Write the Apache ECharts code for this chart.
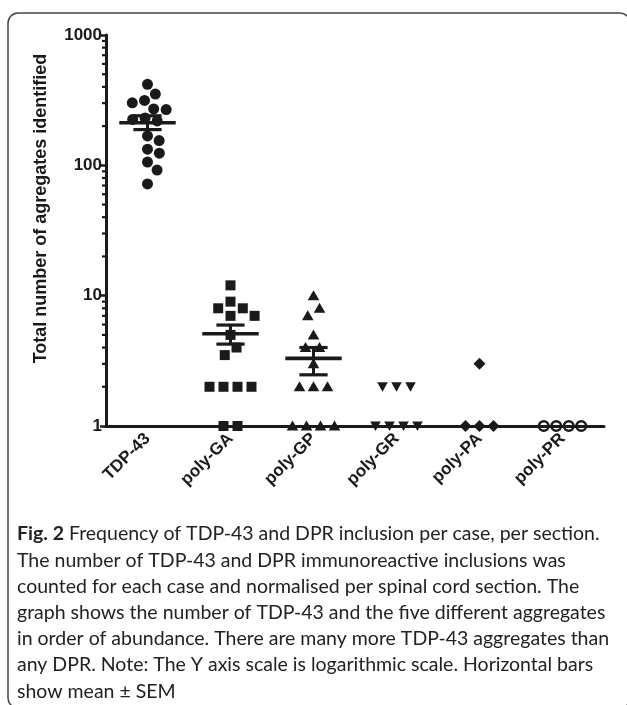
<!DOCTYPE html>
<html>
<head>
<meta charset="utf-8">
<script src="https://cdn.jsdelivr.net/npm/echarts@6/dist/echarts.min.js"></script>
<style>
html,body{margin:0;padding:0;background:#fff;}
#chart{width:627px;height:705px;}
</style>
</head>
<body>
<div id="chart"></div>
<script>
// ---------------- data ----------------
const categories = ['TDP-43', 'poly-GA', 'poly-GP', 'poly-GR', 'poly-PA', 'poly-PR'];
const tdp43  = [418, 352, 315, 302, 271, 268, 231, 225, 219, 168, 155, 133, 124, 106, 92, 72];
const polyGA = [12, 9, 8, 8, 7, 7, 5, 4, 3.5, 2, 2, 2, 2, 1, 1];
const polyGP = [10, 8, 7, 5, 4, 4, 3, 2, 2, 2, 1, 1, 1, 1];
const polyGR = [2, 2, 2, 1, 1, 1, 1];
const polyPA = [3, 1, 1, 1];
const polyPR = [1, 1, 1, 1];
// mean ± SEM bars for TDP-43, poly-GA, poly-GP
const meanValues = [212, 5.1, 3.3];
const semLow     = [188, 4.25, 2.47];
const semHigh    = [240, 5.95, 4.0];
const yTicks = [1, 10, 100, 1000];
const yAxisName = 'Total number of agregates identified';
const captionLines = [
  '{b|Fig. 2} Frequency of TDP-43 and DPR inclusion per case, per section.',
  'The number of TDP-43 and DPR immunoreactive inclusions was',
  'counted for each case and normalised per spinal cord section. The',
  'graph shows the number of TDP-43 and the five different aggregates',
  'in order of abundance. There are many more TDP-43 aggregates than',
  'any DPR. Note: The Y axis scale is logarithmic scale. Horizontal bars',
  'show mean \u00b1 SEM'
];

// ---------------- helpers ----------------
const INK = '#1a1a1a';
const AXFONT = 'Liberation Sans, Arial, sans-serif';
const minorTicks = [];
for (let i = 0; i < yTicks.length - 1; i++) {
  for (let k = 2; k <= 9; k++) minorTicks.push(yTicks[i] * k);
}

function swarm(ys, D) {
  const n = ys.length, xs = new Array(n).fill(0), placed = [];
  const order = ys.map((y, i) => i).sort((a, b) => ys[a] - ys[b]);
  for (const i of order) {
    const cands = [0];
    for (const j of placed) {
      const dy = Math.abs(ys[j] - ys[i]);
      if (dy < D) { const dx = Math.sqrt(D * D - dy * dy); cands.push(xs[j] + dx, xs[j] - dx); }
    }
    cands.sort((a, b) => (Math.abs(a) - Math.abs(b)) || (b - a));
    for (const c of cands) {
      if (placed.every(j => Math.hypot(xs[j] - c, ys[j] - ys[i]) >= D - 1e-6)) { xs[i] = c; break; }
    }
    placed.push(i);
  }
  const groups = {};
  ys.forEach((y, i) => { const k = y.toFixed(2); (groups[k] = groups[k] || []).push(i); });
  for (const k in groups) {
    const g = groups[k]; if (g.length < 2) continue;
    const y = ys[g[0]];
    const iso = ys.every((yy, j) => g.includes(j) || Math.abs(yy - y) >= D);
    if (iso) { const m = g.reduce((s, j) => s + xs[j], 0) / g.length; g.forEach(j => xs[j] -= m); }
  }
  return xs;
}

function shapeFor(kind, cx, cy) {
  const fill = { fill: INK };
  switch (kind) {
    case 'circle': return { type: 'circle', shape: { cx, cy, r: 5.5 }, style: fill };
    case 'square': return { type: 'rect', shape: { x: cx - 5, y: cy - 5, width: 10, height: 10 }, style: fill };
    case 'triangle': return { type: 'polygon', shape: { points: [[cx, cy - 5.5], [cx - 5.8, cy + 4.5], [cx + 5.8, cy + 4.5]] }, style: fill };
    case 'invtriangle': return { type: 'polygon', shape: { points: [[cx - 5.3, cy - 4.5], [cx + 5.3, cy - 4.5], [cx, cy + 5]] }, style: fill };
    case 'diamond': return { type: 'polygon', shape: { points: [[cx, cy - 6], [cx + 6, cy], [cx, cy + 6], [cx - 6, cy]] }, style: fill };
    case 'open': return { type: 'circle', shape: { cx, cy, r: 4.8 }, style: { fill: 'none', stroke: INK, lineWidth: 2.6 } };
  }
}

function pointSeries(catIndex, values, kind, D) {
  let xs = null;
  return {
    type: 'custom',
    coordinateSystem: 'cartesian2d',
    clip: false,
    z: 3,
    data: values.map(v => [catIndex, v]),
    encode: { x: 0, y: 1 },
    renderItem: function (params, api) {
      if (params.dataIndexInside === 0 || !xs) {
        const ys = values.map(v => api.coord([catIndex, v])[1]);
        xs = swarm(ys, D);
      }
      const p = api.coord([api.value(0), api.value(1)]);
      return shapeFor(kind, p[0] + xs[params.dataIndex], p[1]);
    }
  };
}

const meanSeries = {
  type: 'custom',
  coordinateSystem: 'cartesian2d',
  clip: false,
  z: 5,
  data: meanValues.map((m, i) => [i, m, semLow[i], semHigh[i]]),
  encode: { x: 0, y: 1 },
  renderItem: function (params, api) {
    const c = api.coord([api.value(0), api.value(1)]);
    const lo = api.coord([api.value(0), api.value(2)]);
    const hi = api.coord([api.value(0), api.value(3)]);
    const bw = api.size([1, 0])[0];
    const hm = bw * 0.34, hs = bw * 0.17;
    const st = w => ({ stroke: INK, lineWidth: w, fill: 'none' });
    return {
      type: 'group',
      children: [
        { type: 'line', shape: { x1: c[0], y1: hi[1], x2: c[0], y2: lo[1] }, style: st(3) },
        { type: 'line', shape: { x1: c[0] - hm, y1: c[1], x2: c[0] + hm, y2: c[1] }, style: st(3.6) },
        { type: 'line', shape: { x1: c[0] - hs, y1: hi[1], x2: c[0] + hs, y2: hi[1] }, style: st(3.2) },
        { type: 'line', shape: { x1: c[0] - hs, y1: lo[1], x2: c[0] + hs, y2: lo[1] }, style: st(3.2) }
      ]
    };
  }
};

const minorTickSeries = {
  type: 'custom',
  coordinateSystem: 'cartesian2d',
  clip: false,
  z: 4,
  silent: true,
  data: minorTicks.map(v => [0, v]),
  encode: { x: 0, y: 1 },
  renderItem: function (params, api) {
    const y = api.coord([0, api.value(1)])[1];
    const x = params.coordSys.x;
    return { type: 'line', shape: { x1: x - 4, y1: y, x2: x, y2: y }, style: { stroke: INK, lineWidth: 2.2 } };
  }
};

const chart = echarts.init(document.getElementById('chart'), null, { renderer: 'canvas' });
chart.setOption({
  animation: false,
  backgroundColor: '#ffffff',
  grid: { left: 106, top: 35, width: 498, height: 391, containLabel: false },
  xAxis: {
    type: 'category',
    data: categories,
    boundaryGap: true,
    axisLine: { lineStyle: { color: INK, width: 3 } },
    axisTick: { alignWithLabel: true, length: 5, lineStyle: { color: INK, width: 2.5 } },
    axisLabel: { interval: 0, rotate: 45, margin: 10, color: INK, fontFamily: AXFONT, fontWeight: 'bold', fontSize: 17 },
    splitLine: { show: false }
  },
  yAxis: {
    type: 'log',
    logBase: 10,
    min: yTicks[0],
    max: yTicks[yTicks.length - 1],
    name: yAxisName,
    nameLocation: 'middle',
    nameGap: 56,
    nameTextStyle: { color: INK, fontFamily: AXFONT, fontWeight: 'bold', fontSize: 18, padding: [0, 0, 0, 44] },
    axisLine: { show: true, lineStyle: { color: INK, width: 3 } },
    axisTick: { show: true, length: 6, lineStyle: { color: INK, width: 2.5 } },
    axisLabel: { margin: 4, color: INK, fontFamily: AXFONT, fontWeight: 'bold', fontSize: 17,
      formatter: v => String(Math.round(v)) },
    splitLine: { show: false }
  },
  series: [
    minorTickSeries,
    pointSeries(0, tdp43, 'circle', 12.5),
    pointSeries(1, polyGA, 'square', 14),
    pointSeries(2, polyGP, 'triangle', 14),
    pointSeries(3, polyGR, 'invtriangle', 14),
    pointSeries(4, polyPA, 'diamond', 14),
    pointSeries(5, polyPR, 'open', 12.5),
    meanSeries
  ],
  graphic: [
    { type: 'rect', silent: true, z: 0,
      shape: { x: 8, y: 13, width: 622, height: 695, r: 10 },
      style: { fill: 'none', stroke: '#444', lineWidth: 1.5 } },
    { type: 'text', left: 17, top: 521, z: 10,
      style: {
        text: captionLines.join('\n'),
        fontFamily: 'Lato, "Open Sans", sans-serif',
        fontSize: 19.5,
        lineHeight: 26.2,
        fill: '#222',
        rich: { b: { fontFamily: 'Lato, "Open Sans", sans-serif', fontWeight: 'bold', fontSize: 19.5, lineHeight: 26.2, fill: '#222' } }
      } }
  ]
});
</script>
</body>
</html>
